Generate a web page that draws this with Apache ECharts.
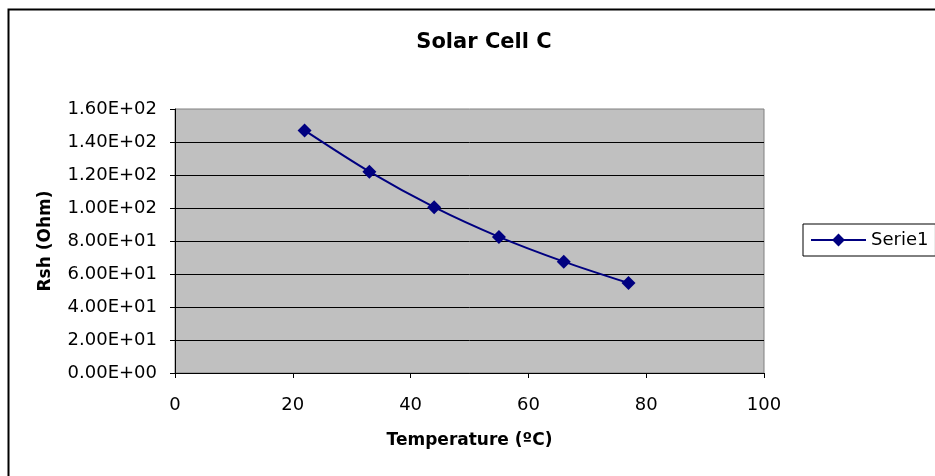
<!DOCTYPE html>
<html>
<head>
<meta charset="utf-8">
<script src="https://cdn.jsdelivr.net/npm/echarts@6/dist/echarts.min.js"></script>
<style>
  html, body { margin: 0; padding: 0; background: #fff; }
  #chart { width: 935px; height: 476px; }
</style>
</head>
<body>
<div id="chart"></div>
<script>
// Shunt resistance of solar cell C versus temperature
const temperatures = [22, 33, 44, 55, 66, 77];
const rshValues = [147, 122, 100.5, 82.5, 67.5, 54.5];
const seriesName = 'Serie1';

const chart = echarts.init(document.getElementById('chart'), null, { renderer: 'canvas' });

const fontFamily = '"DejaVu Sans", Arial, sans-serif';

// Excel-style scientific labels: 1.60E+02
function sciLabel(v) {
  const s = v.toExponential(2);
  const m = s.match(/^(-?[\d.]+)e([+-])(\d+)$/);
  if (!m) return s;
  const exp = m[3].length < 2 ? '0' + m[3] : m[3];
  return m[1] + 'E' + m[2] + exp;
}

chart.setOption({
  animation: false,
  backgroundColor: '#ffffff',
  title: {
    text: 'Solar Cell C',
    left: 479,
    textAlign: 'center',
    top: 27,
    textStyle: { fontFamily, fontSize: 21, fontWeight: 'bold', color: '#000' }
  },
  graphic: [
    {
      type: 'rect',
      shape: { x: 8.5, y: 9.5, width: 940, height: 480 },
      style: { fill: 'none', stroke: '#000', lineWidth: 2 },
      silent: true
    }
  ],
  legend: {
    data: [seriesName],
    left: 803,
    top: 224,
    padding: [7, 7, 7, 7],
    borderColor: '#000',
    borderWidth: 1,
    itemWidth: 55,
    itemHeight: 16,
    itemGap: 4,
    textStyle: { fontFamily, fontSize: 18, color: '#000', padding: [0, 0, 0, 0] }
  },
  grid: {
    left: 175, top: 109, right: 171, bottom: 103,
    show: true,
    backgroundColor: '#c0c0c0',
    borderColor: '#808080',
    borderWidth: 1
  },
  xAxis: {
    type: 'value',
    min: 0, max: 100, interval: 20,
    name: 'Temperature (ºC)',
    nameLocation: 'middle',
    nameGap: 59,
    nameTextStyle: { fontFamily, fontSize: 17, fontWeight: 'bold', color: '#000' },
    axisLine: { show: true, onZero: false, lineStyle: { color: '#000', width: 1 } },
    axisTick: { show: true, inside: false, length: 5, lineStyle: { color: '#000' } },
    axisLabel: { fontFamily, fontSize: 18, color: '#000', margin: 23 },
    splitLine: { show: false }
  },
  yAxis: {
    type: 'value',
    min: 0, max: 160, interval: 20,
    name: 'Rsh (Ohm)',
    nameLocation: 'middle',
    nameGap: 121,
    nameRotate: 90,
    nameTextStyle: { fontFamily, fontSize: 17, fontWeight: 'bold', color: '#000' },
    axisLine: { show: true, lineStyle: { color: '#000', width: 1 } },
    axisTick: { show: true, inside: false, length: 5, lineStyle: { color: '#000' } },
    axisLabel: {
      fontFamily, fontSize: 18, color: '#000', margin: 18,
      padding: [3, 0, 0, 0],
      formatter: sciLabel
    },
    splitLine: { show: true, showMaxLine: false, lineStyle: { color: '#000', width: 1 } }
  },
  series: [
    {
      name: seriesName,
      type: 'line',
      smooth: 0.3,
      data: temperatures.map((t, i) => [t, rshValues[i]]),
      symbol: 'diamond',
      symbolSize: 14,
      lineStyle: { color: '#000080', width: 2 },
      itemStyle: { color: '#000080' }
    }
  ]
});
</script>
</body>
</html>
